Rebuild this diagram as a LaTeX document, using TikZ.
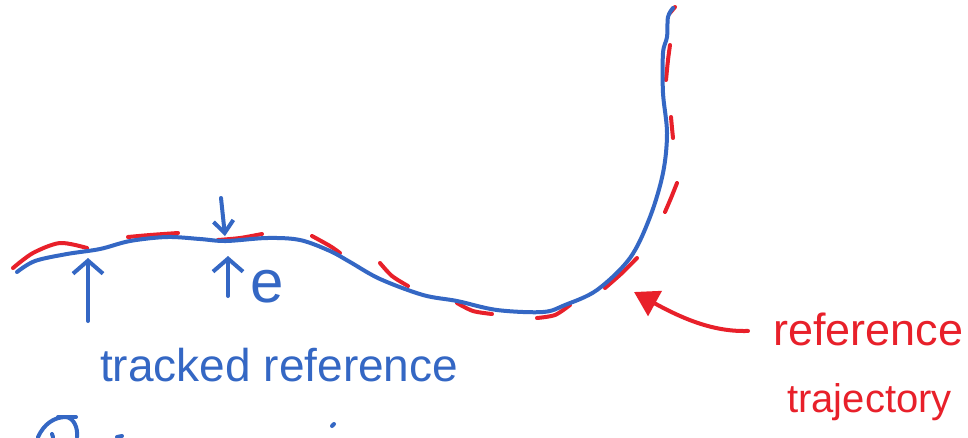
\documentclass[tikz,border=0pt]{standalone}
\usepackage{fontspec}
\setmainfont{Liberation Sans}
\usetikzlibrary{arrows.meta}
\definecolor{penblue}{HTML}{3467C4}
\definecolor{penred}{HTML}{E8202A}
\begin{document}
\begin{tikzpicture}[x={(1pt,0)},y={(0,-1pt)},
  blueink/.style={draw=penblue,line width=4pt,line cap=round,line join=round},
  redink/.style={draw=penred,line width=4pt,line cap=round,line join=round},
  bluetext/.style={text=penblue,inner sep=0pt,anchor=base west},
  redtext/.style={text=penred,inner sep=0pt,anchor=base west}]
\useasboundingbox (0,0) rectangle (968,437);
\fill[white] (0,0) rectangle (968,437);
% red reference trajectory (dashed strokes)
\draw[redink] plot[smooth] coordinates {(13,268) (33,253) (60,243) (87,248)};
\draw[redink] plot[smooth] coordinates {(128,237) (150,235) (178,233)};
\draw[redink] plot[smooth] coordinates {(218,240) (240,238) (262,234)};
\draw[redink] plot[smooth] coordinates {(312,236) (330,246) (340,253)};
\draw[redink] plot[smooth] coordinates {(380,263) (392,276) (408,286)};
\draw[redink] plot[smooth] coordinates {(457,303) (473,311) (492,314)};
\draw[redink] plot[smooth] coordinates {(537,318) (555,315) (570,305)};
\draw[redink] plot[smooth] coordinates {(605,288) (622,273) (637,258)};
\draw[redink] plot[smooth] coordinates {(665,212) (671,198) (677,183)};
\draw[redink] plot[smooth] coordinates {(671,117) (672,128) (673,138)};
\draw[redink] plot[smooth] coordinates {(666,80) (668,60) (670,45)};
\draw[redink] plot[smooth] coordinates {(670,13) (675,7)};
% blue tracked trajectory
\draw[blueink] plot[smooth,tension=0.55] coordinates {(17,272) (35,261) (67,254) (100,249) (130,241) (167,237)
  (200,239) (226,241) (267,238) (300,240) (330,251) (350,262) (380,279) (423,295) (457,301)
  (497,310) (543,312) (565,305) (597,290) (630,258) (650,217) (663,173) (667,133)
  (663,93) (663,53) (667,37) (668,17) (673,8)};
% error arrows
\coordinate (a1tail) at (88,321);
\coordinate (a1tip) at (88,258);
\draw[blueink,-{Straight Barb[length=13pt,width=30pt]}] (a1tail) -- (a1tip);
\coordinate (e1tail) at (228,296);
\coordinate (e1tip) at (228,256);
\draw[blueink,-{Straight Barb[length=13pt,width=30pt]}] (e1tail) -- (e1tip);
\coordinate (e2tail) at (221,198);
\coordinate (e2tip) at (225,236);
\draw[blueink,-{Straight Barb[length=12pt,width=20pt]}] (e2tail) -- (e2tip);
\node[bluetext,font=\fontsize{60}{66}\selectfont] (elabel) at (250,302) {e};
% labels
\node[bluetext,font=\fontsize{46}{52}\selectfont] (tracked) at (100,381) {tracked reference};
\node[redtext,font=\fontsize{45}{52}\selectfont] (reflab) at (773,345) {reference};
\node[redtext,font=\fontsize{40}{46}\selectfont] (trajlab) at (787,412) {trajectory};
\coordinate (rtip) at (634,292);
\draw[redink,-{Triangle[length=24pt,width=28pt]}] (reflab.west) ++(-25,2) coordinate (rtail)
  (rtail) .. controls (715,332) and (685,320) .. (rtip);
% partial strokes at the bottom edge
\draw[blueink] (38,437) .. controls (44,424) and (54,417) .. (66,417) .. controls (74,418) and (78,428) .. (77,437);
\draw[blueink] (58,417) -- (76,417);
\draw[blueink] (52,434) -- (53,437);
\draw[blueink] (117,437) -- (122,436);
\draw[blueink] (332,426) -- (334,424);
\end{tikzpicture}
\end{document}
